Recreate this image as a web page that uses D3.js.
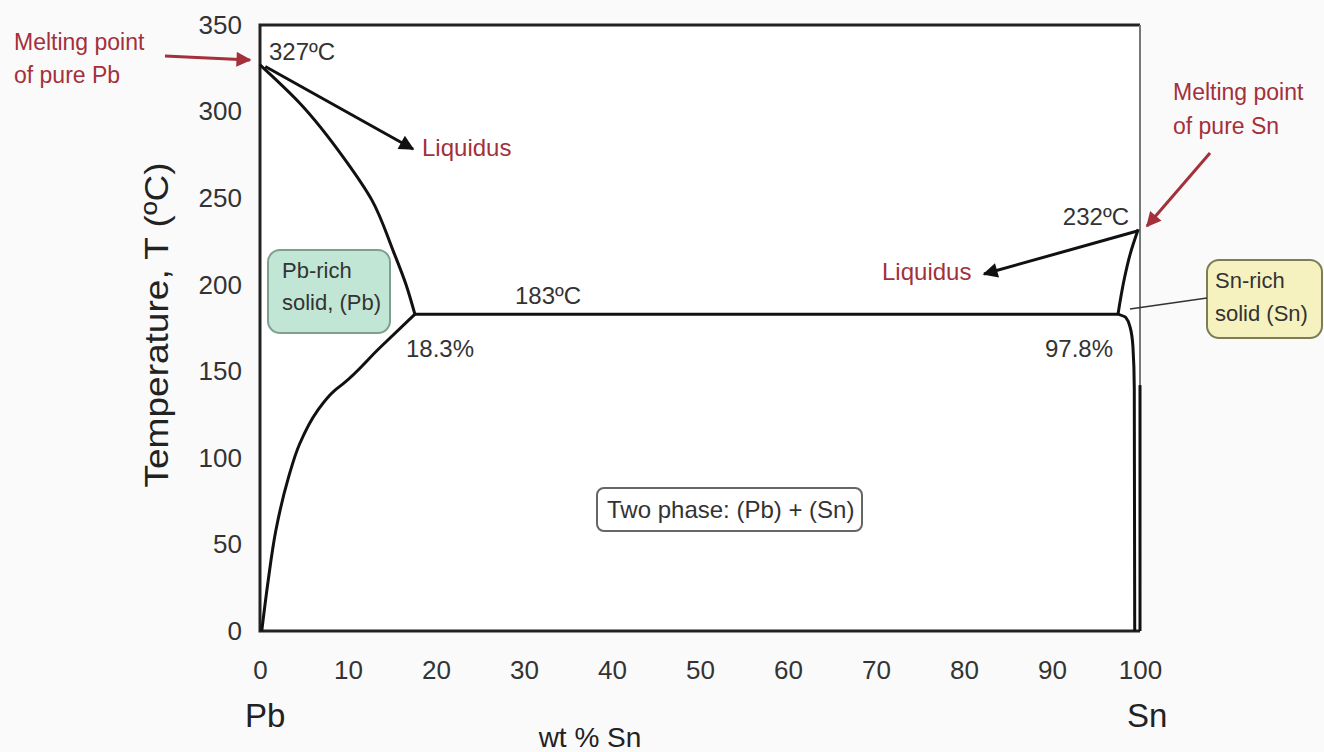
<!DOCTYPE html>
<html>
<head>
<meta charset="UTF-8">
<title>Pb-Sn phase diagram</title>
<script src="https://d3js.org/d3.v7.min.js"></script>
<style>
    body { margin: 0; background: #fafafa; }
    svg { display: block; font-family: "Liberation Sans", Arial, sans-serif; }
    .tick text { fill: #333; font-size: 26px; }
    .phase { fill: none; stroke: #111; stroke-width: 3px; stroke-linejoin: round; }
    .red { fill: #a3303a; }
    .num { fill: #333; font-size: 24px; }
</style>
</head>
<body>
<div id="chart"></div>
<script>
// axis ticks
var xTicks = [0, 10, 20, 30, 40, 50, 60, 70, 80, 90, 100];
var yTicks = [0, 50, 100, 150, 200, 250, 300, 350];

// phase boundaries, [wt % Sn, T in C]
var liquidusPb = [[0, 327], [4.5, 305], [9.7, 272], [12.7, 249], [15.1, 220], [16.6, 200], [17.6, 183]];
var solvusPb = [[17.6, 183], [13.5, 163], [9.5, 143], [8.5, 139], [6.5, 127], [4.5, 108], [3.2, 88], [1.8, 58], [0.9, 28], [0.2, 0]];
var eutectic = [[17.6, 183], [97.5, 183]];
var liquidusSn = [[97.5, 183], [98.2, 203], [98.9, 218], [99.8, 232]];
var solvusSn = [[97.5, 183], [98.4, 181], [98.9, 175], [99.2, 164], [99.35, 140], [99.4, 0]];
var pureSn = [[100, 142], [100, 0]];

var width = 1324, height = 752;
var x = d3.scaleLinear().domain([0, 100]).range([260, 1140]);
var y = d3.scaleLinear().domain([0, 350]).range([631, 25]);

var svg = d3.select("#chart").append("svg")
    .attr("width", width)
    .attr("height", height);

var defs = svg.append("defs");
function marker(id, color) {
    defs.append("marker")
        .attr("id", id)
        .attr("viewBox", "0 0 10 10")
        .attr("refX", 9).attr("refY", 5)
        .attr("markerWidth", 6).attr("markerHeight", 5)
        .attr("markerUnits", "strokeWidth")
        .attr("orient", "auto")
        .append("path")
        .attr("d", "M0,0 L10,5 L0,10 z")
        .attr("fill", color);
}
marker("arrBlack", "#111");
marker("arrRed", "#a3303a");

// plot area
svg.append("rect")
    .attr("x", x(0)).attr("y", y(350))
    .attr("width", x(100) - x(0)).attr("height", y(0) - y(350))
    .attr("fill", "#fff");
var frame = svg.append("g").attr("fill", "none");
frame.append("path")
    .attr("d", "M" + x(100) + "," + y(350) + "H" + x(0) + "V" + y(0) + "H" + x(100))
    .attr("stroke", "#222").attr("stroke-width", 3);
frame.append("path")
    .attr("d", "M" + x(100) + "," + y(350) + "V" + y(0))
    .attr("stroke", "#777").attr("stroke-width", 2);

svg.append("g")
    .attr("transform", "translate(" + (x(0) - 10) + ",0)")
    .call(d3.axisLeft(y).tickValues(yTicks).tickSize(0).tickPadding(8))
    .call(function(g) { g.select(".domain").remove(); });

svg.append("g")
    .attr("transform", "translate(0," + (y(0) + 22) + ")")
    .call(d3.axisBottom(x).tickValues(xTicks).tickSize(0).tickPadding(8))
    .call(function(g) { g.select(".domain").remove(); });

// axis titles
svg.append("text")
    .attr("transform", "translate(168,325) rotate(-90)")
    .attr("text-anchor", "middle")
    .attr("fill", "#222")
    .attr("textLength", 325).attr("lengthAdjust", "spacingAndGlyphs")
    .style("font-size", "34px")
    .text("Temperature, T (ºC)");
svg.append("text").attr("x", 245).attr("y", 727).attr("fill", "#222")
    .style("font-size", "33px").text("Pb");
svg.append("text").attr("x", 1127).attr("y", 727).attr("fill", "#222")
    .style("font-size", "33px").text("Sn");
svg.append("text").attr("x", 590).attr("y", 747).attr("text-anchor", "middle").attr("fill", "#222")
    .style("font-size", "28px").text("wt % Sn");

// phase boundaries
var curve = d3.line()
    .x(function(d) { return x(d[0]); })
    .y(function(d) { return y(d[1]); })
    .curve(d3.curveMonotoneY);
var straight = d3.line()
    .x(function(d) { return x(d[0]); })
    .y(function(d) { return y(d[1]); });

[liquidusPb, solvusPb, liquidusSn, solvusSn].forEach(function(d) {
    svg.append("path").attr("class", "phase").attr("d", curve(d));
});
[eutectic, pureSn].forEach(function(d) {
    svg.append("path").attr("class", "phase").attr("d", straight(d));
});

// labels on the diagram
svg.append("text").attr("class", "num").attr("x", 269).attr("y", 60).text("327ºC");
svg.append("text").attr("class", "num").attr("x", 515).attr("y", 304).text("183ºC");
svg.append("text").attr("class", "num").attr("x", 406).attr("y", 357).text("18.3%");
svg.append("text").attr("class", "num").attr("x", 1113).attr("y", 357)
    .attr("text-anchor", "end").text("97.8%");
svg.append("text").attr("class", "num").attr("x", 1129).attr("y", 225)
    .attr("text-anchor", "end").text("232ºC");

// arrows
function arrow(x1, y1, x2, y2, color, id) {
    svg.append("line")
        .attr("x1", x1).attr("y1", y1).attr("x2", x2).attr("y2", y2)
        .attr("stroke", color).attr("stroke-width", 3)
        .attr("marker-end", "url(#" + id + ")");
}
arrow(x(0.6), y(326), 413, 149, "#111", "arrBlack");
arrow(x(99.7), y(231), 984, 274, "#111", "arrBlack");
arrow(165, 56, 250, 60, "#a3303a", "arrRed");
arrow(1210, 153, 1147, 226, "#a3303a", "arrRed");

function redText(tx, ty, lines, size, lh) {
    var t = svg.append("text").attr("class", "red").style("font-size", size + "px");
    lines.forEach(function(s, i) {
        t.append("tspan").attr("x", tx).attr("y", ty + i * lh).text(s);
    });
}
redText(14, 50, ["Melting point", "of pure Pb"], 23, 33);
redText(1173, 100, ["Melting point", "of pure Sn"], 23, 34);
redText(422, 156, ["Liquidus"], 24, 0);
redText(882, 280, ["Liquidus"], 24, 0);

// phase boxes
function box(bx, by, bw, bh, rx, fill, stroke, lines, size, lh, pad) {
    svg.append("rect")
        .attr("x", bx).attr("y", by).attr("width", bw).attr("height", bh)
        .attr("rx", rx).attr("fill", fill).attr("stroke", stroke).attr("stroke-width", 2);
    var t = svg.append("text").attr("fill", "#333").style("font-size", size + "px");
    lines.forEach(function(s, i) {
        t.append("tspan").attr("x", bx + pad).attr("y", by + size + 6 + i * lh).text(s);
    });
}
box(268, 250, 122, 83, 12, "#c2e6d6", "#7f9f90", ["Pb-rich", "solid, (Pb)"], 22, 32, 14);
box(1207, 260, 115, 78, 12, "#f6f2c0", "#7d7d55", ["Sn-rich", "solid (Sn)"], 22, 33, 8);
box(597, 488, 265, 43, 7, "#fff", "#666", ["Two phase: (Pb) + (Sn)"], 24, 0, 10);

// leader to the Sn-rich box
svg.append("line")
    .attr("x1", 1130).attr("y1", 309).attr("x2", 1207).attr("y2", 298)
    .attr("stroke", "#333").attr("stroke-width", 1.5);
</script>
</body>
</html>
